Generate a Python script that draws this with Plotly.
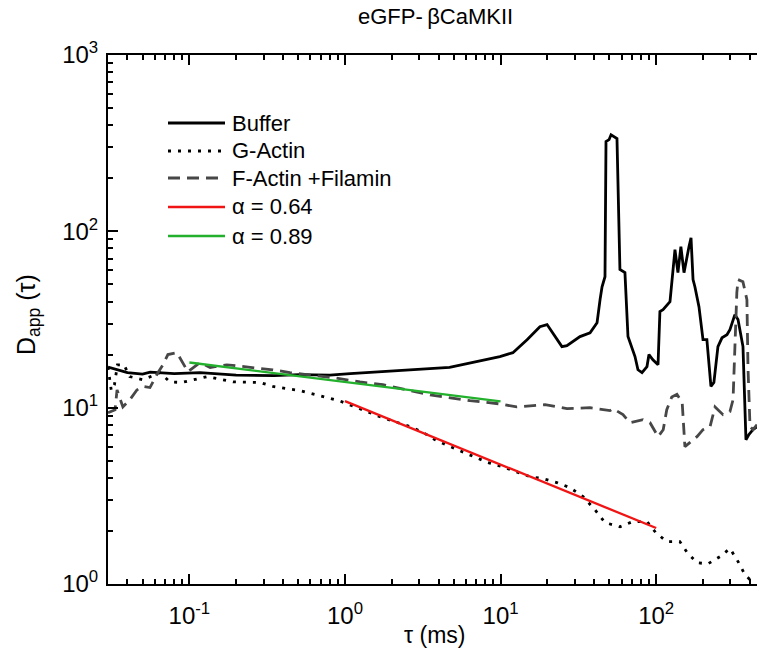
import numpy as np
import plotly.graph_objects as go

# ---- data: apparent diffusion coefficient D_app(tau) of eGFP-betaCaMKII ----
buffer_tau = [0.030, 0.035, 0.040, 0.050, 0.056, 0.080, 0.100, 0.117, 0.20, 0.35,
              0.51, 0.80, 1.08, 2.25, 4.7, 9.9, 12.0, 14.8, 17.9, 19.9,
              21.7, 24.8, 26.7, 32.4, 37.6, 41.7, 43.6, 44.9, 46.9, 47.6,
              49.8, 51.3, 56.0, 58.5, 63.0, 65.9, 73.1, 76.4, 81.1, 87.3,
              89.9, 95.3, 102.8, 105.7, 110.7, 122.7, 132.1, 138.0, 144.2, 151.0,
              162.6, 167.5, 172.6, 177.4, 188.4, 200.0, 211.8, 224.9, 235.0, 249.5,
              264.9, 285.1, 297.9, 320.6, 335.7, 361.4, 377.6, 394.5, 418.8, 444.6]
buffer_d = [17.0, 16.4, 15.8, 15.5, 15.9, 15.6, 15.8, 15.8, 15.3, 15.2,
            15.4, 15.3, 15.6, 16.2, 16.9, 19.5, 20.5, 24.3, 28.8, 29.6,
            26.6, 22.2, 22.5, 25.3, 26.6, 30.3, 41.0, 48.5, 55.3, 323,
            331, 353, 336, 60.7, 58.3, 25.3, 19.5, 16.4, 15.8, 17.1,
            20.0, 18.7, 17.5, 35.1, 36.0, 39.9, 78.7, 58.3, 81.8, 58.3,
            82.0, 92.0, 53.2, 48.5, 37.4, 24.3, 24.3, 13.2, 13.9, 22.2,
            24.9, 25.9, 27.7, 33.7, 31.6, 22.2, 6.58, 7.03, 7.5, 7.8]

gactin_tau = [0.030, 0.0315, 0.033, 0.0345, 0.038, 0.0414, 0.0503, 0.0558, 0.0647, 0.075,
              0.0896, 0.130, 0.191, 0.284, 0.344, 0.424, 0.514, 0.766, 0.929, 1.68,
              2.10, 2.62, 3.12, 3.79, 4.59, 5.65, 6.85, 8.30, 10.2, 12.4,
              15.5, 18.7, 23.0, 27.9, 33.9, 40.4, 46.9, 58.5, 70.9, 87.3,
              99.7, 117, 142, 158, 183, 215, 257, 298, 336, 372, 413]
gactin_d = [17.0, 12.5, 13.5, 17.5, 17.5, 15.0, 14.4, 15.0, 15.8, 14.0,
            13.9, 15.0, 14.0, 13.9, 13.2, 12.8, 12.5, 11.4, 10.9, 8.89,
            8.33, 7.80, 7.31, 6.58, 6.09, 5.63, 5.20, 4.88, 4.63, 4.34,
            4.06, 3.96, 3.76, 3.52, 3.13, 2.64, 2.23, 2.11, 2.26, 2.26,
            1.95, 1.74, 1.74, 1.51, 1.32, 1.30, 1.43, 1.59, 1.34, 1.13, 1.03]

factin_tau = [0.030, 0.0333, 0.0343, 0.0374, 0.0415, 0.046, 0.0503, 0.0558, 0.0628, 0.0676,
              0.0728, 0.0832, 0.0937, 0.098, 0.117, 0.136, 0.174, 0.221, 0.272, 0.344,
              0.443, 0.570, 0.838, 1.25, 1.75, 3.52, 6.36, 9.91, 12.7, 19.3,
              26.7, 37.6, 50.5, 52.8, 61.2, 67.9, 82.3, 91.3, 103, 111,
              117, 126, 136, 147, 149, 153, 183, 200, 222, 239,
              269, 298, 312, 330, 336, 361, 383, 389, 401, 419, 445]
factin_d = [9.37, 9.74, 12.6, 10.1, 11.1, 12.6, 13.2, 13.0, 15.8, 17.5,
            20.0, 20.5, 17.1, 16.0, 18.0, 16.9, 17.5, 17.1, 16.9, 16.4,
            15.8, 15.4, 14.8, 14.0, 13.5, 11.8, 10.96, 10.5, 10.1, 10.4,
            9.87, 10.0, 9.62, 9.87, 9.13, 8.22, 8.55, 8.22, 6.85, 7.5,
            9.74, 11.5, 11.9, 10.7, 8.55, 6.01, 6.85, 7.5, 7.8, 10.1,
            9.13, 9.5, 11.1, 44.9, 53.2, 51.8, 41.0, 17.1, 7.8, 7.5, 8.0]

# power-law fits D = A * tau^(alpha - 1) over their fitted windows
fit_alpha = [0.64, 0.89]
fit_amp = [10.9, 14.0]          # D at tau = 1 ms
fit_tau_lo = [1.0, 0.1]
fit_tau_hi = [100.0, 10.0]
fit_color = ["#f01414", "#23b02c"]

legend_labels = ["Buffer", "G-Actin", "F-Actin +Filamin", "\u03b1 = 0.64", "\u03b1 = 0.89"]

x_major = [0.1, 1, 10, 100]
x_major_text = ["10<sup>-1</sup>", "10<sup>0</sup>", "10<sup>1</sup>", "10<sup>2</sup>"]
y_major = [1, 10, 100, 1000]
y_major_text = ["10<sup>0</sup>", "10<sup>1</sup>", "10<sup>2</sup>", "10<sup>3</sup>"]

# ---- styling ----
FONT = "Liberation Sans, Arial, sans-serif"
W, H = 757, 660
ML, MR, MT, MB = 108, 0, 55, 76
PW, PH = W - ML - MR, H - MT - MB
X_LO = np.log10(0.03)
DEC_X = 155.6                   # pixels per decade on x
X_HI = X_LO + PW / DEC_X

styles = [
    dict(color="black", width=2.8, dash="solid"),
    dict(color="black", width=2.8, dash="3px,7px"),
    dict(color="#474747", width=2.8, dash="12px,7px"),
    dict(color=fit_color[0], width=2.3, dash="solid"),
    dict(color=fit_color[1], width=2.3, dash="solid"),
]

fig = go.Figure()
for tau, d, st in [(buffer_tau, buffer_d, styles[0]),
                   (gactin_tau, gactin_d, styles[1]),
                   (factin_tau, factin_d, styles[2])]:
    fig.add_trace(go.Scatter(x=tau, y=d, mode="lines", line=st, hoverinfo="skip"))

for i, a in enumerate(fit_alpha):
    t = np.array([fit_tau_lo[i], fit_tau_hi[i]])
    fig.add_trace(go.Scatter(x=t, y=fit_amp[i] * t ** (a - 1), mode="lines",
                             line=styles[3 + i], hoverinfo="skip"))

minor_vals = [k * 10.0 ** e for e in range(-2, 4) for k in range(2, 10)]

def px_x(p):
    return (p - ML) / PW

def px_y(p):
    return (H - MB - p) / PH

# hand-drawn legend (line sample + label)
leg_rows = [123, 151, 178, 207, 236]
for lab, st, yy in zip(legend_labels, styles, leg_rows):
    fig.add_shape(type="line", xref="paper", yref="paper",
                  x0=px_x(168), x1=px_x(225), y0=px_y(yy), y1=px_y(yy),
                  line=dict(color=st["color"], width=st["width"], dash=st["dash"]))
    fig.add_annotation(text=lab, xref="paper", yref="paper", x=px_x(230), y=px_y(yy),
                       xanchor="left", yanchor="middle", showarrow=False,
                       font=dict(family=FONT, size=22, color="black"))

fig.add_annotation(text="eGFP-\u2009\u03b2CaMKII", xref="paper", yref="paper",
                   x=px_x(435), y=px_y(17), xanchor="center", yanchor="middle",
                   showarrow=False, font=dict(family=FONT, size=22, color="black"))
fig.add_annotation(text="\u03c4 (ms)", xref="paper", yref="paper",
                   x=px_x(434), y=px_y(635), xanchor="center", yanchor="middle",
                   showarrow=False, font=dict(family=FONT, size=23, color="black"))
fig.add_annotation(text="D<sub>app</sub> (\u03c4)", xref="paper", yref="paper",
                   x=px_x(28), y=px_y(315), xanchor="center", yanchor="middle",
                   textangle=-90, showarrow=False,
                   font=dict(family=FONT, size=25, color="black"))

axis_common = dict(type="log", showgrid=False, zeroline=False, showline=True,
                   linecolor="black", linewidth=2, ticks="inside", ticklen=10,
                   tickwidth=2, tickcolor="black",
                   tickfont=dict(family=FONT, size=24, color="black"),
                   minor=dict(tickmode="array", tickvals=minor_vals, ticks="inside",
                              ticklen=5, tickwidth=2, tickcolor="black", showgrid=False))

fig.update_layout(
    width=W, height=H, margin=dict(l=ML, r=MR, t=MT, b=MB),
    paper_bgcolor="white", plot_bgcolor="white", showlegend=False,
    font=dict(family=FONT, color="black"),
    xaxis=dict(axis_common, range=[X_LO, X_HI], tickmode="array", tickvals=x_major,
               ticktext=x_major_text, mirror="ticks", ticklabelstandoff=9),
    yaxis=dict(axis_common, range=[0, 3], tickmode="array", tickvals=y_major,
               ticktext=y_major_text, ticklabelstandoff=3),
    yaxis2=dict(type="log", range=[0, 3], overlaying="y", side="right", anchor="x",
                showgrid=False, zeroline=False, showline=False, showticklabels=False,
                tickmode="array", tickvals=[10, 100], ticks="inside", ticklen=4,
                tickwidth=2, tickcolor="black"),
)

fig.write_html("out.html")
